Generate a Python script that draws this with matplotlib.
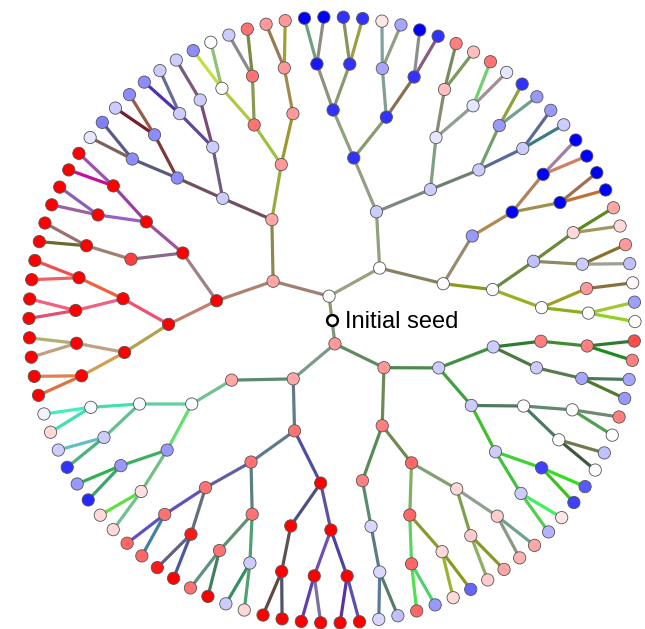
import numpy as np
import matplotlib
matplotlib.use("Agg")
import matplotlib.pyplot as plt
from matplotlib.collections import LineCollection

# Tree listed depth-first, children in counter-clockwise order.
# depth: 0 = initial seed, 7 = leaves
depth = [
    0, 1, 2, 3, 4,
    5, 6, 7, 7, 6, 7,
    5, 6, 7, 7, 6, 7, 7,
    4, 5, 6, 7, 7, 6, 7, 7,
    3, 4, 5, 6, 7, 7, 6, 7, 7,
    5, 6, 7, 7, 6, 7, 7,
    4, 5, 6, 7, 7, 6, 7, 7,
    5, 6, 7, 7, 6, 7, 7,
    2, 3, 4, 5, 6, 7, 7,
    5, 6, 7, 7, 6, 7, 7,
    4, 5, 6, 7, 6, 7, 7,
    5, 6, 7, 7, 6, 7, 7,
    3, 4, 5, 6, 7, 7, 6, 7, 7,
    5, 6, 7, 7,
    4, 5, 6, 7, 7, 6, 7, 7,
    5, 6, 7, 7, 6, 7, 7,
    1, 2, 3, 4, 5, 6, 7, 7, 6, 7, 7,
    5, 6, 7, 7, 6, 7, 7,
    3, 4, 5, 6, 7, 7, 6, 7, 7,
    5, 6, 7, 7, 6, 7, 7,
    4, 5, 6, 7, 7,
    5, 6, 7, 7, 6, 7, 7,
    2, 3, 4, 5, 6, 7, 7,
    4, 5, 6, 7, 7, 6, 7, 7,
    5, 6, 7, 7, 6, 7, 7,
    3, 4, 5, 6, 7, 7, 6, 7, 7,
    5, 6, 7, 7, 6, 7, 7,
    4, 5, 6, 7, 7, 5, 6, 7, 7,
]

# node value (+1 red ... 0 white ... -1 blue)
value = [
    np.nan, 0, 0, 0, 0,
    0, 0, 0, -0.38, 0.4, 0.03,
    -0.25, -0.2, -0.25, 0.4, 0.15, 0.15, 0.35,
    -0.4, -1, -1, -1, -1, -1, -1, -1,
    -0.2, -0.2, -0.2, -0.2, -0.2, -0.4, -0.4, -0.4, -0.8,
    -0.1, -0.1, -0.1, 0.55, 0.25, 0.25, 0.5,
    -0.8, -0.8, -0.8, -0.8, -1, -0.35, -0.35, 0.1,
    -0.8, -0.8, -0.8, -0.8, -0.9, -1, -1,
    0.35, 0.35, 0.4, 0.4, 0.4, 0.4, 0.4,
    0.55, 0.55, 0.55, -0.2, 0, 0, -0.45,
    -0.2, -0.2, -0.2, -0.2, -0.2, -0.2, -0.45,
    -0.45, -0.45, -0.45, -0.2, -0.45, -0.5, -0.1,
    1, 1, 1, 1, 1, 1, 1, 1, 1,
    0.75, 1, 1, 1,
    1, 1, 1, 1, 1, 1, 1, 1,
    1, 1, 1, 1, 1, 1, 1,
    0.4, 0.35, 0.35, -0.03, -0.03, -0.03, -0.05, 0.15, -0.2, -0.2, -0.8,
    -0.4, -0.4, -0.4, -0.85, 0.12, 0.15, 0.15,
    0.55, 0.55, 0.55, 0.55, 0.6, 0.6, 0.9, 0.9, 1,
    0.55, 0.55, 0.55, 1, -0.2, -0.2, 0.15,
    1, 1, 1, 1, 1,
    1, 1, 1, 1, 1, 1, 1,
    0.4, 0.5, 0.5, -0.15, -0.15, -0.15, -0.25,
    0.6, 0.6, 0.6, 0.6, -0.4, 0.15, 0.15, -0.6,
    0.15, 0.2, 0.2, 0.35, 0.2, 0.3, 0.35,
    -0.2, -0.2, -0.2, -0.2, -0.3, 0.1, -0.75, -0.75, -0.65,
    0, 0, 0, -0.25, 0, 0, 0.5,
    -0.2, -0.2, -0.35, -0.4, -0.35, 0.5, 0.5, 0.5, 0.7,
]

# colour of the branch leading into each node
branch = [
    None, "#8a9a6a", "#9aa080", "#8a8060", "#8a9a20",
    "#9ab020", "#8ab020", "#90d020", "#a0c830", "#a0a020", "#8a7040",
    "#6a8a40", "#908a60", "#a0a090", "#8a7030", "#6a8a3a", "#a09860", "#5a8a20",
    "#9a8a70", "#b08a50", "#a09050", "#c07030", "#a07050", "#b08060", "#d08060", "#a080a0",
    "#90a080", "#7a8a80", "#708070", "#5a6a9a", "#3a7a8a", "#5a6a9a", "#70a070", "#70a090", "#90a040",
    "#80a080", "#90a090", "#a09090", "#70d070", "#8a8a70", "#7a9a60", "#7a8a60",
    "#90a080", "#8a9a70", "#8a7050", "#8a5a80", "#8a9090", "#80a090", "#90a080", "#80a0a0",
    "#90a080", "#8a9a70", "#9aa040", "#8a9060", "#909080", "#908a80", "#70a080",
    "#a08070", "#8a8a50", "#9aaa40", "#9a9a30", "#a08a50", "#a0a030", "#9a7a50",
    "#a0c040", "#8a9a50", "#7a8a40", "#8a8a8a", "#b0c840", "#90c070", "#c0e040",
    "#705060", "#705a80", "#7a4a7a", "#7a5a7a", "#5a4a9a", "#6a6a9a", "#5030b0",
    "#705060", "#7a3a3a", "#9a5a4a", "#7a1a2a", "#5a5a7a", "#5a5a8a", "#806060",
    "#b08070", "#a08080", "#a050a0", "#9a40a0", "#a050b0", "#c010a0", "#9a60c0", "#8a60b0", "#a060a0",
    "#8a6a8a", "#a08070", "#9a7070", "#6a6a30",
    "#c08070", "#f05070", "#f06040", "#f05050", "#f06060", "#f06080", "#f06080", "#e05070",
    "#b0a050", "#c0a080", "#b0b070", "#c0a080", "#d0a050", "#e08050", "#e07040",
    "#7a9a7a", "#7a9a8a", "#5a8a70", "#70c090", "#60d0a0", "#40e0b0", "#40f0c0", "#40e0b0", "#60c090", "#60c0c0", "#50b080",
    "#60e070", "#40b060", "#30b050", "#40a070", "#70c080", "#60e040", "#70c090",
    "#607a8a", "#607a8a", "#6060a0", "#6050c0", "#6050c0", "#4080a0", "#607080", "#606080", "#4a5a9a",
    "#5a8080", "#609070", "#609080", "#408060", "#50a070", "#309060", "#50a070",
    "#5050a0", "#505080", "#605050", "#604a40", "#505070",
    "#6050a0", "#7050b0", "#6040b0", "#7a70a0", "#5040a0", "#6030a0", "#5a50b0",
    "#608a60", "#6a8a5a", "#5a8a5a", "#5a8a70", "#5a7a8a", "#5a7a9a", "#5a7a6a",
    "#708a50", "#80b060", "#60d060", "#50e050", "#50d070", "#8a9a30", "#a0b030", "#8a9a20",
    "#80a070", "#80a050", "#8ab060", "#8a9a20", "#90a090", "#8a9a80", "#70a090",
    "#4a8a4a", "#40a040", "#40c030", "#40c040", "#50d050", "#40f060", "#40d030", "#40c020", "#30e020",
    "#507a60", "#4a7a60", "#3a5a40", "#707a50", "#608a70", "#50a050", "#708a70",
    "#409040", "#4a7a40", "#5a7a50", "#507a30", "#4a7a5a", "#307a30", "#408a30", "#208a20", "#307a30",
]

seed_label = "Initial seed"

assert len(depth) == len(value) == len(branch)
n = len(depth)

# parents from the depth-first listing
parent = []
stack = []
for i, d in enumerate(depth):
    stack = stack[:d]
    parent.append(stack[-1] if stack else -1)
    stack.append(i)

# leaves evenly spread round the circle, inner nodes at the mean leaf angle
maxd = max(depth)
leaves = [i for i in range(n) if depth[i] == maxd]
ang_sum = np.zeros(n)
cnt = np.zeros(n)
for k, i in enumerate(leaves):
    ang_sum[i] = -0.3 + k * 360.0 / len(leaves)
    cnt[i] = 1
for i in range(n - 1, 0, -1):
    ang_sum[parent[i]] += ang_sum[i]
    cnt[parent[i]] += cnt[i]
ang = np.radians(ang_sum / np.maximum(cnt, 1))
rad = np.array([0.0 if d == 0 else 24 + (d - 1) * 46.5 for d in depth])
x = rad * np.cos(ang)
y = rad * np.sin(ang)

fig = plt.figure(figsize=(6.45, 6.29), dpi=100)
ax = fig.add_axes([0, 0, 1, 1])
ax.set_xlim(-332, 313)
ax.set_ylim(-309, 320)
ax.axis("off")

segs = [[(x[parent[i]], y[parent[i]]), (x[i], y[i])] for i in range(1, n)]
lc = LineCollection(segs, colors=branch[1:], linewidths=2.3, capstyle="round", zorder=1)
ax.add_collection(lc)

vals = np.array(value[1:], dtype=float)
ax.scatter(x[1:], y[1:], c=vals, cmap="bwr", vmin=-1, vmax=1, s=78,
           edgecolors="#555555", linewidths=0.6, zorder=2)

ax.scatter([x[0]], [y[0]], s=60, facecolors="white", edgecolors="black",
           linewidths=1.8, zorder=3)
ax.annotate(seed_label, (x[0], y[0]), xytext=(9.5, -5.8), textcoords="offset points",
            ha="left", va="baseline", fontsize=17, family=["Liberation Sans", "DejaVu Sans"],
            color="black", zorder=4)

fig.savefig("out.png", dpi=100)
